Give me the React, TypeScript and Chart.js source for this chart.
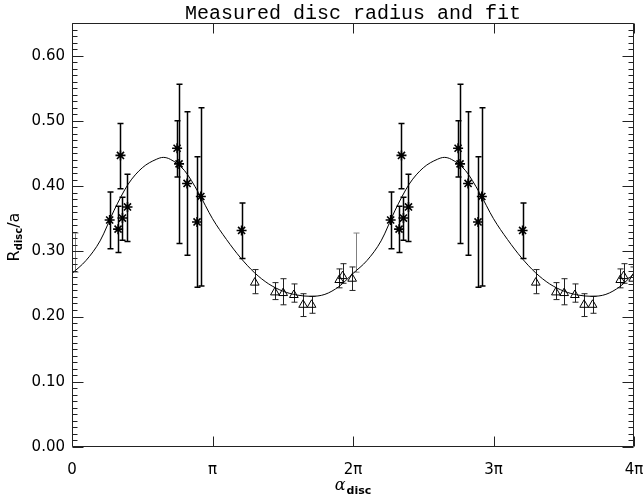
import { useEffect, useRef } from 'react';
import { Chart, registerables } from 'chart.js';

Chart.register(...registerables);

// x values are in units of pi
const xTickValues = [0, 1, 2, 3, 4];
const xTickLabels = ['0', 'π', '2π', '3π', '4π'];
const yTickValues = [0, 0.1, 0.2, 0.3, 0.4, 0.5, 0.6];

// fitted curve, one period (0..2π)
const fitAlpha = [0, 0.1, 0.2, 0.3, 0.4, 0.5, 0.6, 0.65, 0.7, 0.8, 0.9, 1.0, 1.1, 1.2, 1.3, 1.4, 1.5, 1.6, 1.7, 1.8, 1.9, 2.0];
const fitR = [0.266, 0.286, 0.316, 0.363, 0.403, 0.428, 0.441, 0.444, 0.441, 0.424, 0.390, 0.350, 0.318, 0.290, 0.267, 0.250, 0.239, 0.233, 0.231, 0.234, 0.246, 0.266];

// asterisk measurements (one period)
const starAlpha = [0.268, 0.328, 0.345, 0.359, 0.395, 0.748, 0.762, 0.819, 0.890, 0.917, 1.207];
const starR = [0.348, 0.334, 0.447, 0.351, 0.368, 0.458, 0.434, 0.404, 0.345, 0.384, 0.332];
const starLo = [0.304, 0.298, 0.396, 0.317, 0.315, 0.414, 0.312, 0.294, 0.245, 0.247, 0.289];
const starHi = [0.391, 0.369, 0.496, 0.383, 0.418, 0.500, 0.556, 0.514, 0.445, 0.520, 0.374];

// triangle measurements (one period)
const triAlpha = [1.301, 1.444, 1.503, 1.579, 1.645, 1.705, 1.902, 1.926, 1.994];
const triR = [0.252, 0.237, 0.236, 0.233, 0.218, 0.218, 0.256, 0.262, 0.258];
const triLo = [0.235, 0.226, 0.218, 0.222, 0.200, 0.205, 0.244, 0.251, 0.240];
const triHi = [0.272, 0.252, 0.258, 0.250, 0.235, 0.231, 0.273, 0.281, 0.276];

// error bar without a symbol
const bareAlpha = [0.021];
const bareR = [0.298];
const bareLo = [0.268];
const bareHi = [0.328];

const PERIOD = 2; // 2π, the data are shown twice

function twoPeriods(xs: number[], ys: number[], lo?: number[], hi?: number[]) {
  const out: any[] = [];
  [0, PERIOD].forEach((off) => {
    xs.forEach((x, i) => {
      out.push({ x: x + off, y: ys[i], lo: lo ? lo[i] : undefined, hi: hi ? hi[i] : undefined });
    });
  });
  return out;
}

const fitPoints = () => {
  const pts: any[] = [];
  fitAlpha.forEach((a, i) => pts.push({ x: a, y: fitR[i] }));
  fitAlpha.forEach((a, i) => { if (i > 0) pts.push({ x: a + PERIOD, y: fitR[i] }); });
  return pts;
};

const errorBarPlugin = {
  id: 'errbars',
  beforeDatasetsDraw(chart: any) {
    const { ctx, chartArea: a, scales } = chart;
    const xs = scales.x, ys = scales.y;
    ctx.save();
    ctx.beginPath();
    ctx.rect(a.left, a.top, a.right - a.left, a.bottom - a.top);
    ctx.clip();
    chart.data.datasets.forEach((ds: any) => {
      if (!ds.errColor) return;
      ctx.strokeStyle = ds.errColor;
      ctx.lineWidth = ds.errWidth;
      ds.data.forEach((p: any) => {
        const px = Math.round(xs.getPixelForValue(p.x)) + 0.5;
        const yl = ys.getPixelForValue(p.lo);
        const yh = ys.getPixelForValue(p.hi);
        ctx.beginPath();
        ctx.moveTo(px, yl);
        ctx.lineTo(px, yh);
        ctx.moveTo(px - 3, yl);
        ctx.lineTo(px + 3, yl);
        ctx.moveTo(px - 3, yh);
        ctx.lineTo(px + 3, yh);
        ctx.stroke();
      });
    });
    ctx.restore();
  },
};

const framePlugin = {
  id: 'frame',
  afterDraw(chart: any) {
    const { ctx, chartArea: a, scales } = chart;
    const xs = scales.x, ys = scales.y;
    ctx.save();
    ctx.strokeStyle = '#222';
    ctx.lineWidth = 1;
    const L = Math.round(a.left) + 0.5, R = Math.round(a.right) - 0.5;
    const T = Math.round(a.top) + 0.5, B = Math.round(a.bottom) - 0.5;
    ctx.beginPath();
    ctx.rect(L, T, R - L, B - T);
    ctx.stroke();
    ctx.beginPath();
    // x major ticks, bottom and top
    xTickValues.forEach((v) => {
      const px = Math.round(xs.getPixelForValue(v)) + 0.5;
      ctx.moveTo(px, B); ctx.lineTo(px, B - 10);
      ctx.moveTo(px, T); ctx.lineTo(px, T + 10);
    });
    // y ticks, left and right
    for (let k = 0; k <= 65; k++) {
      const v = k / 100;
      const py = Math.round(ys.getPixelForValue(v)) + 0.5;
      const len = k % 10 === 0 ? 11 : 5;
      ctx.moveTo(L, py); ctx.lineTo(L + len, py);
      ctx.moveTo(R, py); ctx.lineTo(R - len, py);
    }
    ctx.stroke();

    ctx.fillStyle = '#000';
    // title
    ctx.font = '20px "Liberation Mono"';
    ctx.textAlign = 'center';
    ctx.textBaseline = 'alphabetic';
    ctx.fillText('Measured disc radius and fit', (a.left + a.right) / 2, 18.5);

    // x axis title: alpha_disc
    ctx.textAlign = 'left';
    ctx.font = 'italic 16px "DejaVu Serif"';
    const wA = ctx.measureText('α').width;
    ctx.font = 'bold 11px "DejaVu Sans"';
    const wD = ctx.measureText('disc').width;
    const x0 = (a.left + a.right) / 2 - (wA + wD + 1) / 2;
    ctx.font = 'italic 16px "DejaVu Serif"';
    ctx.fillText('α', x0, 490);
    ctx.font = 'bold 11px "DejaVu Sans"';
    ctx.fillText('disc', x0 + wA + 1, 494);

    // y axis title: R_disc/a
    ctx.save();
    ctx.translate(18.5, (a.top + a.bottom) / 2 + 2);
    ctx.rotate(-Math.PI / 2);
    ctx.font = '16px "DejaVu Sans"';
    const wR = ctx.measureText('R').width;
    const wS = ctx.measureText('/a').width;
    ctx.font = 'bold 10px "DejaVu Sans"';
    const wd = ctx.measureText('disc').width;
    let cx = -(wR + wd + wS) / 2;
    ctx.font = '16px "DejaVu Sans"';
    ctx.fillText('R', cx, 0);
    cx += wR;
    ctx.font = 'bold 10px "DejaVu Sans"';
    ctx.fillText('disc', cx, 3);
    cx += wd;
    ctx.font = '16px "DejaVu Sans"';
    ctx.fillText('/a', cx, 0);
    ctx.restore();

    ctx.restore();
  },
};

export default function App() {
  const ref = useRef<HTMLCanvasElement | null>(null);
  useEffect(() => {
    document.body.style.margin = '0';
    const canvas = ref.current;
    if (!canvas) return;
    const chart = new Chart(canvas, {
      type: 'scatter',
      data: {
        datasets: [
          {
            label: 'fit',
            type: 'line',
            data: fitPoints(),
            borderColor: '#000',
            borderWidth: 1,
            pointRadius: 0,
            fill: false,
            cubicInterpolationMode: 'monotone',
            order: 3,
          } as any,
          {
            label: 'bare',
            data: twoPeriods(bareAlpha, bareR, bareLo, bareHi),
            pointRadius: 0,
            errColor: '#808080',
            errWidth: 1,
            order: 2,
          } as any,
          {
            label: 'triangles',
            data: twoPeriods(triAlpha, triR, triLo, triHi),
            pointStyle: 'triangle',
            pointRadius: 5,
            borderColor: '#000',
            backgroundColor: 'rgba(0,0,0,0)',
            borderWidth: 1,
            errColor: '#222',
            errWidth: 1,
            order: 1,
          } as any,
          {
            label: 'stars',
            data: twoPeriods(starAlpha, starR, starLo, starHi),
            pointStyle: 'star',
            pointRadius: 5,
            borderColor: '#000',
            backgroundColor: '#000',
            borderWidth: 1.6,
            errColor: '#000',
            errWidth: 1.5,
            order: 0,
          } as any,
        ],
      },
      options: {
        animation: false,
        responsive: false,
        devicePixelRatio: 1,
        layout: { padding: { top: 23, right: 10, left: 0, bottom: 0 } },
        plugins: {
          legend: { display: false },
          tooltip: { enabled: false },
          title: { display: false },
        },
        scales: {
          x: {
            type: 'linear',
            min: 0,
            max: 4,
            grid: { display: false, drawTicks: false },
            border: { display: false },
            afterBuildTicks: (s: any) => { s.ticks = xTickValues.map((v) => ({ value: v })); },
            afterFit: (s: any) => { s.height = 54; s.paddingLeft = 0; s.paddingRight = 0; },
            ticks: {
              callback: (_v: any, i: number) => xTickLabels[i],
              font: { family: '"DejaVu Sans"', size: 15 },
              color: '#000',
              padding: 14,
              maxRotation: 0,
              autoSkip: false,
            },
          },
          y: {
            type: 'linear',
            min: 0,
            max: 0.65,
            grid: { display: false, drawTicks: false },
            border: { display: false },
            afterBuildTicks: (s: any) => { s.ticks = yTickValues.map((v) => ({ value: v })); },
            afterFit: (s: any) => { s.width = 72; s.paddingTop = 0; s.paddingBottom = 0; },
            ticks: {
              callback: (v: any) => Number(v).toFixed(2),
              font: { family: '"DejaVu Sans"', size: 15 },
              color: '#000',
              padding: 7,
              autoSkip: false,
            },
          },
        },
      } as any,
      plugins: [errorBarPlugin, framePlugin],
    });
    return () => chart.destroy();
  }, []);
  return (
    <canvas ref={ref} width={644} height={501} style={{ display: 'block', width: 644, height: 501 }} />
  );
}
